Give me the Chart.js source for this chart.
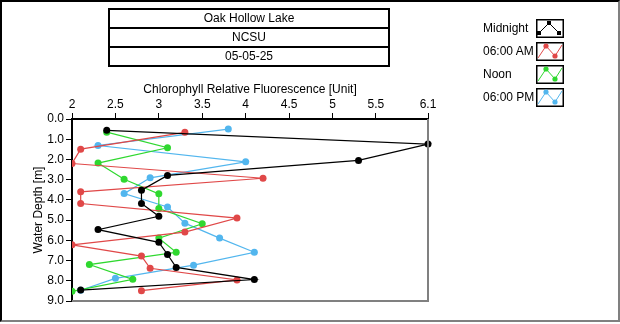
<!DOCTYPE html>
<html>
<head>
<meta charset="utf-8">
<script src="https://cdn.jsdelivr.net/npm/chart.js@4"></script>
<style>
    body { margin: 0; background: #fff; font-family: "Liberation Sans", Arial, sans-serif; font-size: 12px; color: #000; }
    #frame { position: absolute; left: 0; top: 0; width: 620px; height: 322px; box-sizing: border-box;
             border-top: 2px solid #000; border-left: 2px solid #000;
             border-right: 2px solid #808080; border-bottom: 2px solid #808080; }
    #chartBox { position: absolute; left: 0; top: 0; width: 620px; height: 324px; }
    .titleRow { position: absolute; left: 108px; width: 282px; height: 21px; box-sizing: border-box;
                border: 2px solid #000; text-align: center; line-height: 17px; }
    .legRow { position: absolute; left: 483px; height: 19px; line-height: 19px; }
    .legRow canvas { position: absolute; left: 53px; top: 0; }
</style>
</head>
<body>
<div id="frame"></div>
<div id="chartBox"><canvas id="profileChart" width="620" height="324"></canvas></div>
<div id="titles"></div>
<div id="legend"></div>

<script>
// ===============================
//  DATA
// ===============================
const titleLines = ["Oak Hollow Lake", "NCSU", "05-05-25"];
const seriesNames = ["Midnight", "06:00 AM", "Noon", "06:00 PM"];
const seriesColors = ["#000000", "#e04848", "#2fd82f", "#52b6ee"];

const xTitle = "Chlorophyll Relative Fluorescence [Unit]";
const yTitle = "Water Depth [m]";
const xTicks = [2, 2.5, 3, 3.5, 4, 4.5, 5, 5.5, 6.1];

// depth [m] and fluorescence for each profile
const midnightDepth = [0.56, 1.24, 2.05, 2.79, 3.52, 4.18, 4.81, 5.47, 6.10, 6.70, 7.34, 7.94, 8.46];
const midnightValue = [2.4, 6.1, 5.3, 3.1, 2.8, 2.8, 3.0, 2.3, 3.0, 3.1, 3.2, 4.1, 2.1];

const amDepth = [0.66, 1.49, 2.20, 2.93, 3.60, 4.18, 4.90, 5.59, 6.22, 6.78, 7.38, 7.96, 8.49];
const amValue = [3.3, 2.1, 2.0, 4.2, 2.1, 2.1, 3.9, 3.3, 2.0, 2.8, 2.9, 3.9, 2.8];

const noonDepth = [0.65, 1.42, 2.18, 2.98, 3.70, 4.43, 5.18, 5.89, 6.59, 7.20, 7.93, 8.52];
const noonValue = [2.4, 3.1, 2.3, 2.6, 3.0, 3.0, 3.5, 3.0, 3.2, 2.2, 2.7, 2.0];

const pmDepth = [0.50, 1.31, 2.12, 2.91, 3.69, 4.35, 5.15, 5.89, 6.59, 7.23, 7.88, 8.47];
const pmValue = [3.8, 2.3, 4.0, 2.9, 2.6, 3.1, 3.3, 3.7, 4.1, 3.4, 2.5, 2.1];

const profiles = [
    [midnightValue, midnightDepth],
    [amValue, amDepth],
    [noonValue, noonDepth],
    [pmValue, pmDepth]
];

// ===============================
//  TITLE BOXES + LEGEND (html)
// ===============================
const titleBox = document.getElementById("titles");
titleLines.forEach((t, i) => {
    const d = document.createElement("div");
    d.className = "titleRow";
    d.style.top = (8 + i * 19) + "px";
    d.textContent = t;
    titleBox.appendChild(d);
});

function drawLegendIcon(cv, idx) {
    const c = cv.getContext("2d");
    const col = seriesColors[idx];
    c.strokeStyle = "#000";
    c.lineWidth = 1.5;
    c.strokeRect(0.75, 0.75, cv.width - 1.5, cv.height - 1.5);
    c.strokeStyle = col;
    c.fillStyle = col;
    c.lineWidth = 1;
    let pts, marks;
    if (idx === 0) {
        pts = [[3, 14], [13, 4], [23, 14]];
        marks = pts;
    } else {
        pts = [[2, 16], [10, 4], [19, 14], [26, 3]];
        marks = [pts[1], pts[2]];
    }
    c.beginPath();
    pts.forEach((p, i) => i ? c.lineTo(p[0], p[1]) : c.moveTo(p[0], p[1]));
    c.stroke();
    marks.forEach(p => {
        c.beginPath();
        if (idx === 0) c.rect(p[0] - 2, p[1] - 2, 4, 4);
        else c.arc(p[0], p[1], 2.6, 0, Math.PI * 2);
        c.fill();
    });
}

const legendBox = document.getElementById("legend");
seriesNames.forEach((name, i) => {
    const row = document.createElement("div");
    row.className = "legRow";
    row.style.top = (19 + i * 23) + "px";
    row.textContent = name;
    const cv = document.createElement("canvas");
    cv.width = 28;
    cv.height = 19;
    row.appendChild(cv);
    legendBox.appendChild(row);
    drawLegendIcon(cv, i);
});

// ===============================
//  CHART
// ===============================
Chart.defaults.font.family = '"Liberation Sans", Arial, sans-serif';
Chart.defaults.font.size = 12;
Chart.defaults.color = "#000";

// gray right / bottom edge of the plot, like a sunken panel
const plotFrame = {
    id: "plotFrame",
    afterDraw(chart) {
        const { ctx, chartArea: a } = chart;
        ctx.save();
        ctx.strokeStyle = "#808080";
        ctx.lineWidth = 2;
        ctx.beginPath();
        ctx.moveTo(a.right, a.top);
        ctx.lineTo(a.right, a.bottom);
        ctx.lineTo(a.left, a.bottom);
        ctx.stroke();
        ctx.restore();
    }
};

const datasets = profiles.map((p, i) => ({
    label: seriesNames[i],
    data: p[0].map((v, k) => ({ x: v, y: p[1][k] })),
    showLine: true,
    borderColor: seriesColors[i],
    backgroundColor: seriesColors[i],
    borderWidth: 1.2,
    pointRadius: 3.5,
    pointBorderWidth: 0,
    pointBackgroundColor: seriesColors[i],
    clip: { left: 0, top: false, right: false, bottom: false }
}));

new Chart(document.getElementById("profileChart"), {
    type: "scatter",
    data: { datasets },
    options: {
        responsive: false,
        animation: false,
        events: [],
        layout: { padding: { left: 31, top: 82, right: 192, bottom: 23 } },
        plugins: { legend: { display: false }, tooltip: { enabled: false } },
        scales: {
            x: {
                type: "linear",
                position: "top",
                min: 2,
                max: 6.1,
                afterBuildTicks: s => { s.ticks = xTicks.map(v => ({ value: v })); },
                afterFit: s => { s.height = 37; },
                ticks: { padding: 1, maxRotation: 0, autoSkip: false, callback: v => String(v) },
                grid: { drawOnChartArea: false, drawTicks: true, tickLength: 6, color: "#000" },
                border: { color: "#000", width: 2 },
                title: { display: true, text: xTitle, padding: 0 }
            },
            y: {
                type: "linear",
                position: "left",
                reverse: true,
                min: 0,
                max: 9,
                afterFit: s => { s.width = 41; },
                ticks: { stepSize: 1, padding: 2, callback: v => v.toFixed(1) },
                grid: { drawOnChartArea: false, drawTicks: true, tickLength: 6, color: "#000" },
                border: { color: "#000", width: 2 },
                title: { display: true, text: yTitle, padding: 0 }
            }
        }
    },
    plugins: [plotFrame]
});
</script>
</body>
</html>
